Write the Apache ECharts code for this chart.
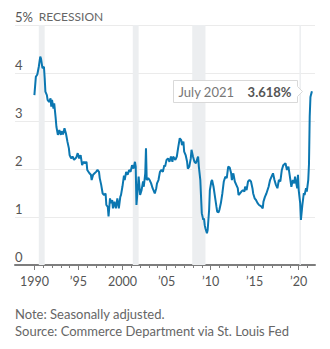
<!DOCTYPE html>
<html><head><meta charset="utf-8">
<script src="https://cdn.jsdelivr.net/npm/echarts@6/dist/echarts.min.js"></script>
<style>html,body{margin:0;padding:0;background:#fff}#c{width:330px;height:349px}</style>
</head><body><div id="c"></div>
<script>
const dates = ['1990-01','1990-03','1990-05','1990-07','1990-09','1990-10','1990-12','1991-02','1991-03','1991-04','1991-06','1991-07','1991-09','1991-11','1991-12',
'1992-01','1992-03','1992-04','1992-06','1992-07','1992-09','1992-11','1993-01','1993-02','1993-04','1993-06','1993-08','1993-10','1993-12',
'1994-01','1994-03','1994-05','1994-07','1994-10','1994-12','1995-02','1995-04','1995-06','1995-08','1995-10','1995-12',
'1996-01','1996-04','1996-06','1996-07','1996-09','1996-11','1997-01','1997-03','1997-05','1997-06','1997-08','1997-10','1997-12',
'1998-02','1998-03','1998-05','1998-06','1998-08','1998-09','1998-11','1998-12','1999-02','1999-04','1999-06','1999-08','1999-10','1999-11',
'2000-01','2000-03','2000-04','2000-06','2000-08','2000-10','2000-12','2001-02','2001-04','2001-06','2001-07','2001-08','2001-10','2001-11',
'2002-01','2002-03','2002-05','2002-06','2002-08','2002-09','2002-10','2002-12','2003-02','2003-04','2003-06','2003-08','2003-09','2003-11','2003-12',
'2004-02','2004-04','2004-06','2004-08','2004-10','2004-11','2005-01','2005-03','2005-05','2005-07','2005-09','2005-10',
'2006-01','2006-03','2006-05','2006-07','2006-09','2006-10','2006-12','2007-01','2007-03','2007-05','2007-06','2007-08','2007-10','2007-11',
'2008-01','2008-03','2008-05','2008-07','2008-08','2008-09','2008-11','2008-12','2009-01','2009-03','2009-04','2009-05','2009-06','2009-08','2009-09','2009-11','2009-12',
'2010-02','2010-03','2010-05','2010-07','2010-09','2010-10','2010-12','2011-01','2011-03','2011-05','2011-07','2011-09','2011-11',
'2012-01','2012-03','2012-05','2012-06','2012-08','2012-10','2012-12','2013-02','2013-03','2013-05','2013-07','2013-09','2013-11','2013-12',
'2014-02','2014-04','2014-06','2014-08','2014-10','2014-11','2015-01','2015-03','2015-05','2015-07','2015-10','2015-12',
'2016-01','2016-03','2016-05','2016-08','2016-10','2016-12','2017-02','2017-04','2017-06','2017-08','2017-10','2017-12',
'2018-02','2018-04','2018-07','2018-09','2018-11','2019-01','2019-03','2019-05','2019-07','2019-08','2019-11','2019-12',
'2020-01','2020-03','2020-04','2020-06','2020-08','2020-09','2020-11','2020-12','2021-02','2021-03','2021-04','2021-05','2021-06','2021-07'];
const values = [3.54,3.92,3.97,4.13,4.34,4.30,4.10,4.13,3.90,3.61,3.54,3.44,3.40,3.47,3.30,
3.44,3.26,3.37,3.06,2.88,2.71,2.81,2.71,2.79,2.72,2.85,2.74,2.57,2.43,
2.29,2.22,2.26,2.19,2.24,2.33,2.22,2.29,2.08,2.15,2.12,2.15,
1.98,1.91,1.88,1.77,1.88,1.91,1.94,1.98,1.94,1.81,1.67,1.49,1.46,
1.49,1.25,1.21,1.01,1.39,1.29,1.35,1.18,1.32,1.18,1.39,1.18,1.42,1.46,
1.64,1.86,1.77,1.94,1.88,1.98,1.94,2.08,2.01,2.15,2.05,1.25,1.63,1.84,
1.46,1.56,1.74,1.63,1.91,2.43,1.77,1.81,1.77,1.70,1.60,1.53,1.49,1.60,1.70,
1.77,1.94,1.98,1.94,2.08,2.05,2.19,2.22,2.15,2.26,2.15,2.26,
2.19,2.26,2.46,2.64,2.60,2.50,2.57,2.36,2.29,2.15,2.01,2.05,2.22,2.40,
2.26,2.15,2.12,2.22,2.26,2.05,1.77,1.42,1.08,0.94,0.97,0.83,0.76,0.66,0.73,1.15,1.56,
1.74,1.77,1.63,1.42,1.21,1.11,1.10,1.15,1.29,1.49,1.74,1.84,1.81,
2.05,2.03,1.91,1.77,1.91,1.74,1.67,1.60,1.46,1.49,1.53,1.56,1.53,1.63,
1.56,1.74,1.77,1.74,1.60,1.49,1.39,1.35,1.29,1.25,1.22,1.18,
1.32,1.42,1.49,1.63,1.77,1.84,1.91,1.77,1.67,1.60,1.77,1.74,
1.98,2.08,2.12,1.98,2.05,1.84,1.63,1.77,1.70,1.84,1.60,1.88,
1.56,1.29,0.94,1.25,1.50,1.46,1.60,1.53,1.77,2.10,3.10,3.50,3.56,3.618];
const recessionStarts = ['1990-07','2001-03','2007-12','2020-02'];
const recessionEnds = ['1991-03','2001-11','2009-06','2020-04'];
const yTickLabels = ['0','1','2','3','4','5%'];
const xMinorYears = [1990,1991,1992,1993,1994,1995,1996,1997,1998,1999,2000,2001,2002,2003,2004,2005,2006,2007,2008,2009,2010,2011,2012,2013,2014,2015,2016,2017,2018,2019,2020,2021];
const xMajorYears = [1990,1995,2000,2005,2010,2015,2020];
const xMajorLabels = ['1990','’95','2000','’05','’10','’15','’20'];
const recessionLabel = 'RECESSION';
const calloutDate = 'July 2021';
const noteLines = ['Note: Seasonally adjusted.','Source: Commerce Department via St. Louis Fed'];

function toYear(s){const p=s.split('-').map(Number);return p[0]+(p[1]-1)/12;}
const FONT = 'Lato';
const TXT = '#666';
const AX = '#7d7d7d';
const seriesData = dates.map((d,i)=>[toYear(d), values[i]]);
const areas = recessionStarts.map((s,i)=>{
  const a = {xAxis: toYear(s)};
  if(i===0){a.name=recessionLabel;a.label={show:true,position:[0,-3],align:'left',verticalAlign:'bottom',color:TXT,fontSize:12,fontFamily:FONT,formatter:recessionLabel};}
  return [a,{xAxis: toYear(recessionEnds[i])}];
});

const chart = echarts.init(document.getElementById('c'), null, {renderer:'svg'});
const xCommon = {type:'value',min:1987.8,max:2021.85,position:'bottom',splitLine:{show:false}};
chart.setOption({
  animation:false,
  grid:{left:15,right:15,top:25,bottom:84},
  xAxis:[
    Object.assign({},xCommon,{
      axisLine:{show:true,lineStyle:{color:AX,width:2}},
      axisTick:{show:true,customValues:xMinorYears,length:3,lineStyle:{color:AX,width:1}},
      axisLabel:{show:false}
    }),
    Object.assign({},xCommon,{
      axisLine:{show:false},
      axisTick:{show:true,customValues:xMajorYears,length:5,lineStyle:{color:AX,width:1}},
      axisLabel:{show:true,customValues:xMajorYears,margin:10,color:'#555',fontSize:12.5,fontFamily:FONT,
        formatter:v=>xMajorLabels[xMajorYears.indexOf(Math.round(v))]}
    })
  ],
  yAxis:{type:'value',min:0,max:5,interval:1,
    axisLine:{show:false},axisTick:{show:false},
    splitLine:{lineStyle:{color:'#ebebeb',width:1}},
    axisLabel:{inside:true,margin:0,verticalAlign:'bottom',padding:[0,0,2,0],color:'#555',fontSize:13,fontFamily:FONT,
      formatter:v=>yTickLabels[Math.round(v)]}
  },
  series:[{
    type:'line',data:seriesData,showSymbol:false,
    lineStyle:{color:'#0b77b1',width:2},
    markArea:{silent:true,itemStyle:{color:'#eceef0'},label:{show:false},data:areas}
  }]
});

const last = seriesData[seriesData.length-1];
const pt = chart.convertToPixel({seriesIndex:0}, last);
const tipX = Math.round(pt[0]-10)+0.5, tipY = Math.round(pt[1])+0.5;
const bR = tipX-5, bL = bR-124, bT = tipY-11, bB = tipY+11;
chart.setOption({graphic:[
  {type:'polygon',z:100,shape:{points:[[bL,bT],[bR,bT],[bR,tipY-5],[tipX,tipY],[bR,tipY+5],[bR,bB],[bL,bB]]},
    style:{fill:'#fff',stroke:'#d9d9d9',lineWidth:1}},
  {type:'text',z:101,style:{x:bL+5,y:tipY,text:calloutDate,fill:'#777',font:'13px '+FONT,textAlign:'left',textVerticalAlign:'middle'}},
  {type:'text',z:101,style:{x:bR-6,y:tipY,text:last[1].toFixed(3)+'%',fill:'#555',font:'bold 13px '+FONT,textAlign:'right',textVerticalAlign:'middle'}},
  {type:'text',left:15,top:307,style:{text:noteLines[0],fill:TXT,font:'13px '+FONT}},
  {type:'text',left:15,top:324,style:{text:noteLines[1],fill:TXT,font:'13px '+FONT}}
]});
</script></body></html>
